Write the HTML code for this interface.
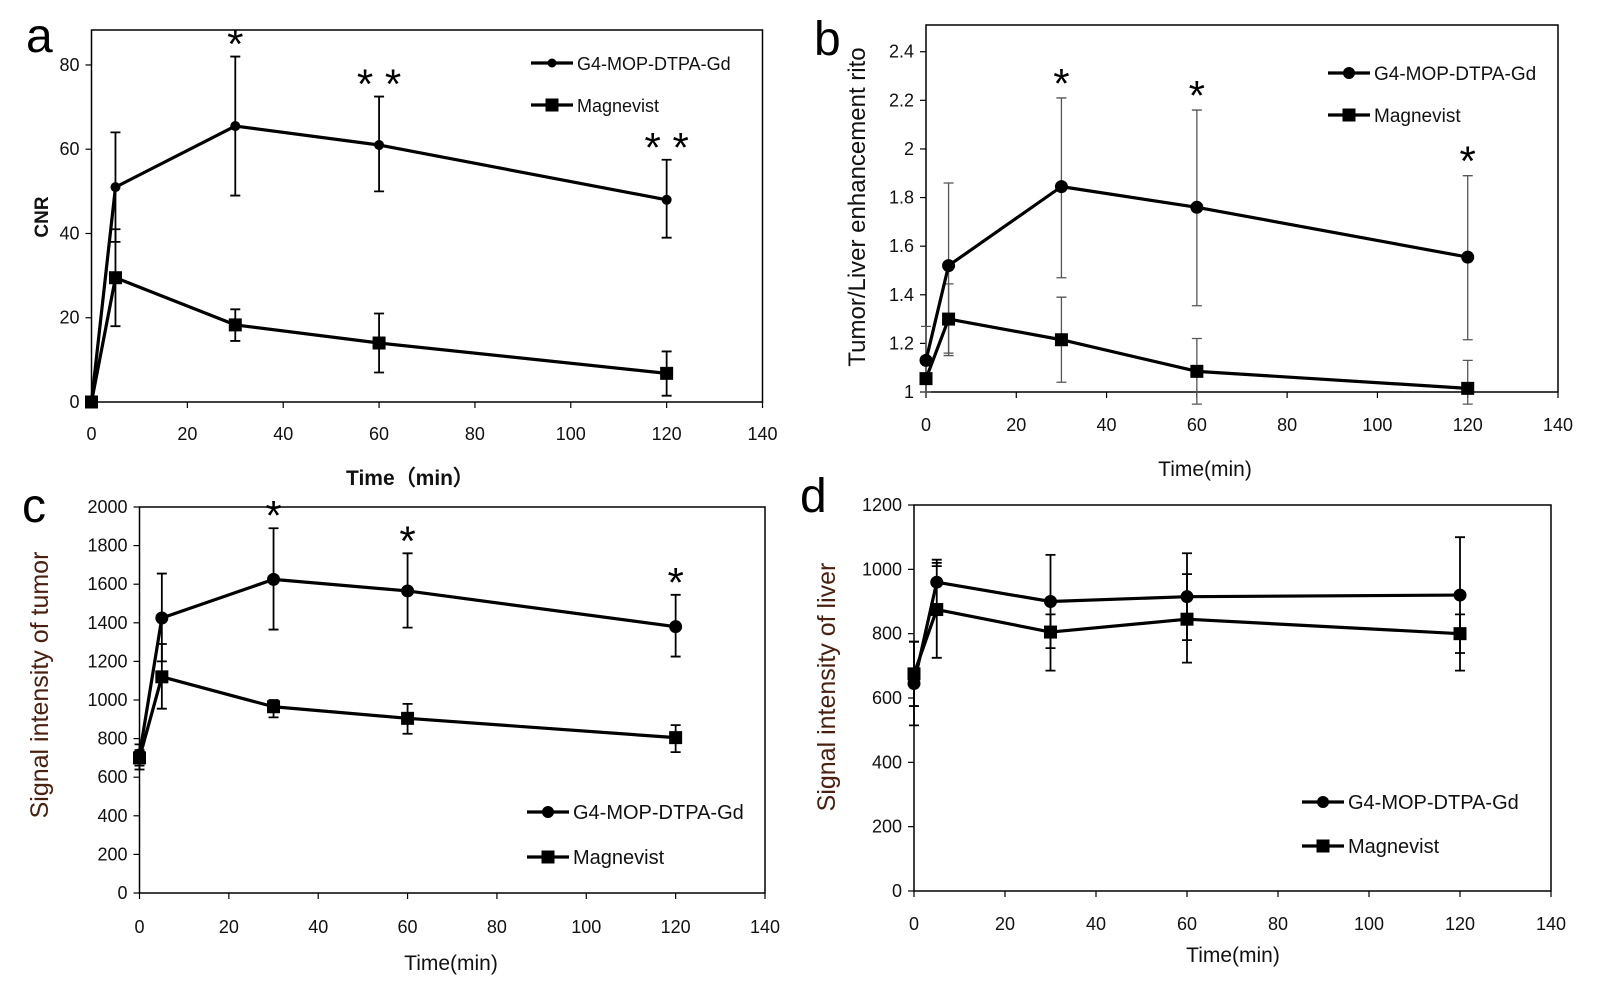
<!DOCTYPE html>
<html><head><meta charset="utf-8"><style>
body{margin:0;background:#fff;}
svg{display:block;font-family:"Liberation Sans",sans-serif;}
</style></head><body>
<svg id="fig" width="1600" height="1000" viewBox="0 0 1600 1000"></svg>
<script>
const NS="http://www.w3.org/2000/svg";
const times=[0,5,30,60,120];
const xTicks=[0,20,40,60,80,100,120,140];
// Panel a (CNR)
const aG4=[0,51,65.5,61,48];
const aG4Hi=[0,64,82,72.5,57.5];
const aG4Lo=[0,38,49,50,39];
const aMag=[0,29.5,18.3,14,6.8];
const aMagHi=[0,41,22,21,12];
const aMagLo=[0,18,14.5,7,1.5];
const aYTicks=[0,20,40,60,80];
const aStars=["","","*","**","**"];
// Panel b (ratio)
const bG4=[1.13,1.52,1.845,1.76,1.555];
const bG4Hi=[1.27,1.86,2.21,2.16,1.89];
const bG4Lo=[1.0,1.16,1.47,1.355,1.215];
const bMag=[1.055,1.30,1.215,1.085,1.015];
const bMagHi=[1.055,1.445,1.39,1.22,1.13];
const bMagLo=[1.0,1.15,1.04,0.95,0.95];
const bYTicks=[1,1.2,1.4,1.6,1.8,2,2.2,2.4];
const bStars=["","","*","*","*"];
// Panel c (tumor)
const cG4=[715,1425,1625,1565,1380];
const cG4Hi=[770,1655,1890,1760,1545];
const cG4Lo=[660,1200,1365,1375,1225];
const cMag=[700,1120,965,905,805];
const cMagHi=[740,1290,1000,980,870];
const cMagLo=[640,955,910,825,730];
const cYTicks=[0,200,400,600,800,1000,1200,1400,1600,1800,2000];
const cStars=["","","*","*","*"];
// Panel d (liver)
const dG4=[645,960,900,915,920];
const dG4Hi=[775,1030,1045,1050,1100];
const dG4Lo=[515,1010,755,780,740];
const dMag=[675,875,805,845,800];
const dMagHi=[775,1020,860,985,860];
const dMagLo=[575,725,685,710,685];
const dYTicks=[0,200,400,600,800,1000,1200];
const dStars=["","","","",""];

const svg=document.getElementById('fig');
function el(tag,attrs,parent){const e=document.createElementNS(NS,tag);for(const k in attrs)e.setAttribute(k,attrs[k]);(parent||svg).appendChild(e);return e;}

function panel(cfg){
  const g=el('g',{});
  
  
  const sx=v=>cfg.L+(v-0)/(140)*(cfg.R-cfg.L);
  const sy=v=>cfg.B-(v-cfg.ymin)/(cfg.ymax-cfg.ymin)*(cfg.B-cfg.T);
  const frame=el('rect',{x:cfg.L,y:cfg.T,width:cfg.R-cfg.L,height:cfg.B-cfg.T,fill:'none',stroke:'#000','stroke-width':1.5},g);
  
  
  xTicks.forEach(t=>{
    const x=sx(t);
    el('line',{x1:x,x2:x,y1:cfg.B,y2:cfg.B+6,stroke:'#000','stroke-width':1.2},g);
    const tx=el('text',{x:x,y:cfg.xlabY,'text-anchor':'middle','font-size':18,fill:'#111'},g);
    tx.textContent=t;
    
    
  });
  cfg.yTicks.forEach(t=>{
    const y=sy(t);
    el('line',{x1:cfg.L-6,x2:cfg.L,y1:y,y2:y,stroke:'#000','stroke-width':1.2},g);
    const ty=el('text',{x:cfg.L-12,y:y+6,'text-anchor':'end','font-size':18,fill:'#111'},g);
    ty.textContent=t;
    
    
  });
  const xt=el('text',{x:cfg.xtX,y:cfg.xtY,'text-anchor':'middle','font-size':21,'font-weight':cfg.bold?'bold':'normal',fill:'#111'},g);
  xt.textContent=cfg.xTitle;
  
  
  const yt=el('text',{x:0,y:0,'text-anchor':'middle','font-size':cfg.ytSize||20,'font-weight':cfg.bold?'bold':'normal',fill:cfg.ytColor||'#111',transform:`translate(${cfg.ytX},${cfg.ytY}) rotate(-90)`},g);
  yt.textContent=cfg.yTitle;
  
  
  const lt=el('text',{x:cfg.letX,y:cfg.letY,'font-size':48,fill:'#000'},g);
  lt.textContent=cfg.letter;
  
  
  const ebColor=cfg.ebColor||'#000', ebW=cfg.ebW||1.8;
  const series=[{v:cfg.g4,hi:cfg.g4Hi,lo:cfg.g4Lo,shape:'circle',name:'g4'},{v:cfg.mag,hi:cfg.magHi,lo:cfg.magLo,shape:'square',name:'magnevist'}];
  series.forEach(s=>{
    times.forEach((t,i)=>{
      const x=sx(t);
      const e=el('path',{d:`M${x},${sy(s.hi[i])}V${sy(s.lo[i])}M${x-5},${sy(s.hi[i])}H${x+5}M${x-5},${sy(s.lo[i])}H${x+5}`,stroke:ebColor,'stroke-width':ebW,fill:'none'},g);
      
      
    });
  });
  series.forEach(s=>{
    const d=times.map((t,i)=>(i?'L':'M')+sx(t)+','+sy(s.v[i])).join('');
    const p=el('path',{d:d,stroke:'#000','stroke-width':3.2,fill:'none','stroke-linejoin':'round'},g);
    
    
    times.forEach((t,i)=>{
      let m;
      if(s.shape==='circle') m=el('circle',{cx:sx(t),cy:sy(s.v[i]),r:cfg.mr||6.5,fill:'#000'},g);
      else m=el('rect',{x:sx(t)-6.5,y:sy(s.v[i])-6.5,width:13,height:13,fill:'#000'},g);
      
      
    });
  });
  times.forEach((t,i)=>{
    if(!cfg.stars[i])return;
    const st=el('text',{x:sx(t),y:sy(cfg.g4Hi[i])-cfg.starOff+12,'text-anchor':'middle','font-size':42,fill:'#000'},g);
    st.textContent=cfg.stars[i].split('').join(' ');
    
    
  });
  [[cfg.legY1,'circle','G4-MOP-DTPA-Gd'],[cfg.legY2,'square','Magnevist']].forEach(([y,shape,label])=>{
    const lg=el('g',{},g);
    
    
    el('line',{x1:cfg.legX,x2:cfg.legX+42,y1:y,y2:y,stroke:'#000','stroke-width':3.2},lg);
    const cx=cfg.legX+21;
    if(shape==='circle') el('circle',{cx:cx,cy:y,r:cfg.legMr||6,fill:'#000'},lg);
    else el('rect',{x:cx-6.5,y:y-6.5,width:13,height:13,fill:'#000'},lg);
    const tx=el('text',{x:cfg.legX+46,y:y+7,'font-size':cfg.legSize||19,fill:'#111'},lg);
    tx.textContent=label;
  });
}

panel({name:'panel-a-cnr',L:91.5,R:762.5,T:30,B:402,ymin:0,ymax:88.3,yTicks:aYTicks,
  g4:aG4,g4Hi:aG4Hi,g4Lo:aG4Lo,mag:aMag,magHi:aMagHi,magLo:aMagLo,stars:aStars,starOff:10,
  xlabY:440,xTitle:'Time（min）',xtX:410,xtY:485,bold:true,yTitle:'CNR',ytX:48,ytY:217,ytSize:19,
  letter:'a',letX:26,letY:52,legX:531,legY1:63,legY2:105,legSize:18,mr:5,legMr:4.5});
panel({name:'panel-b-ratio',L:926,R:1558,T:25,B:392,ymin:1,ymax:2.51,yTicks:bYTicks,
  g4:bG4,g4Hi:bG4Hi,g4Lo:bG4Lo,mag:bMag,magHi:bMagHi,magLo:bMagLo,stars:bStars,starOff:12,
  xlabY:431,xTitle:'Time(min)',xtX:1205,xtY:476,yTitle:'Tumor/Liver enhancement rito',ytX:865,ytY:207,ytSize:24,
  letter:'b',letX:814,letY:55,legX:1328,legY1:73,legY2:115,legSize:19,ebColor:'#555',ebW:1.3});
panel({name:'panel-c-tumor',L:139.5,R:765,T:507,B:893,ymin:0,ymax:2000,yTicks:cYTicks,
  g4:cG4,g4Hi:cG4Hi,g4Lo:cG4Lo,mag:cMag,magHi:cMagHi,magLo:cMagLo,stars:cStars,starOff:10,
  xlabY:933,xTitle:'Time(min)',xtX:451,xtY:970,yTitle:'Signal intensity of tumor',ytX:48,ytY:685,ytSize:25,ytColor:'#4a2010',
  letter:'c',letX:22,letY:522,legX:527,legY1:812,legY2:857,legSize:20});
panel({name:'panel-d-liver',L:914,R:1551,T:505,B:891,ymin:0,ymax:1200,yTicks:dYTicks,
  g4:dG4,g4Hi:dG4Hi,g4Lo:dG4Lo,mag:dMag,magHi:dMagHi,magLo:dMagLo,stars:dStars,starOff:6,
  xlabY:930,xTitle:'Time(min)',xtX:1233,xtY:962,yTitle:'Signal intensity of  liver',ytX:835,ytY:687,ytSize:25,ytColor:'#4a2010',
  letter:'d',letX:800,letY:512,legX:1302,legY1:802,legY2:846,legSize:20});
</script>
</body></html>
